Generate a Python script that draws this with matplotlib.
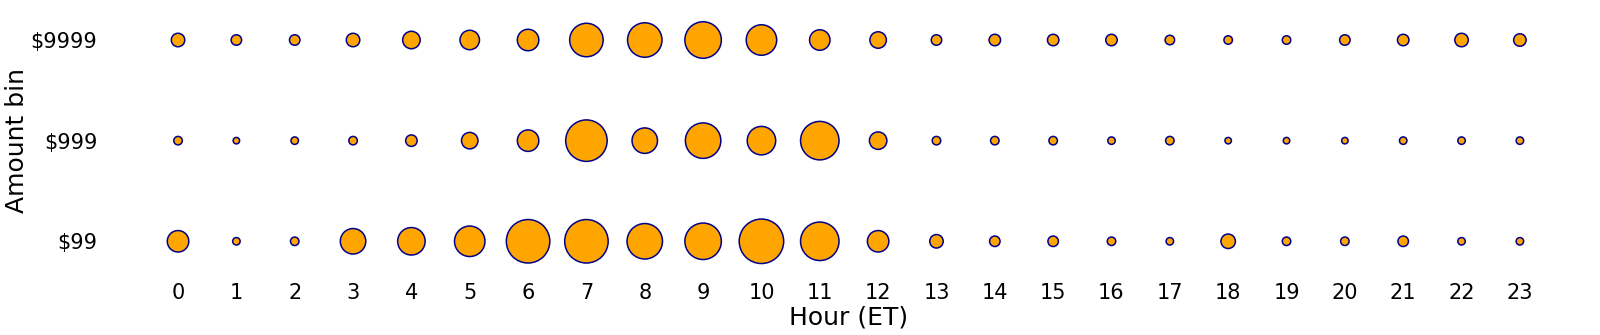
import numpy as np
import matplotlib
matplotlib.use("Agg")
import matplotlib.pyplot as plt

hours = list(range(24))
bins = ["$99", "$999", "$9999"]

# relative transaction counts (proportional to bubble area)
count_99 = [529, 81, 100, 729, 841, 1024, 2025, 2025, 1369, 1444, 2116, 1600,
            529, 225, 144, 144, 100, 81, 256, 100, 100, 144, 81, 81]
count_999 = [100, 64, 81, 100, 169, 324, 529, 1849, 729, 1369, 900, 1600,
             361, 100, 100, 100, 81, 100, 64, 64, 64, 81, 81, 81]
count_9999 = [225, 144, 144, 225, 361, 441, 529, 1225, 1296, 1444, 1024, 484,
              324, 144, 169, 169, 169, 121, 100, 100, 144, 169, 225, 196]

fig = plt.figure(figsize=(16, 3.35), dpi=100)
ax = fig.add_axes([0.0821, 0.1746, 0.897, 0.8111])

px2pt = 72.0 / 100.0
lw = 1.1
for yi, counts in enumerate([count_99, count_999, count_9999]):
    c = np.array(counts, dtype=float)
    d_pt = np.sqrt(c) * px2pt - lw
    ax.scatter(hours, [yi] * len(hours), s=d_pt ** 2, c="orange",
               edgecolors="darkblue", linewidths=lw, zorder=3)

ax.set_xlim(-0.8, 23.8)
ax.set_ylim(-0.35, 2.35)
ax.set_xticks(hours)
ax.set_xticklabels([str(h) for h in hours], fontsize=15)
ax.set_yticks(range(len(bins)))
ax.set_yticklabels(bins, fontsize=15)
ax.tick_params(axis="x", length=0, pad=5)
ax.tick_params(axis="y", length=0, pad=24.5)
for sp in ax.spines.values():
    sp.set_visible(False)
ax.set_xlabel("Hour (ET)", fontsize=18, labelpad=1.5)
ax.set_ylabel("Amount bin", fontsize=18, labelpad=1)

fig.savefig("out.png", dpi=100)
